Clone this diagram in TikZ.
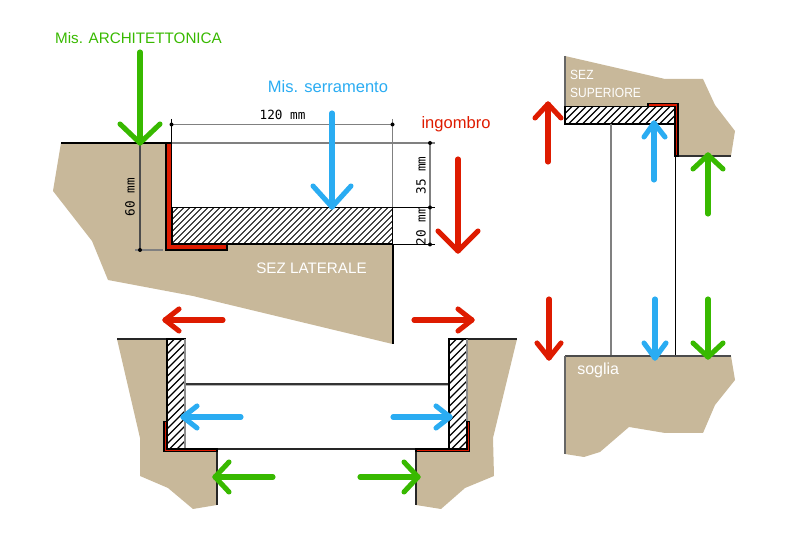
\documentclass[tikz,border=0pt]{standalone}
\usepackage{fontspec}
\setmainfont{Liberation Sans}
\setmonofont{DejaVu Sans Mono}
\definecolor{tan}{HTML}{C8B89A}
\definecolor{cgreen}{HTML}{38B900}
\definecolor{cblue}{HTML}{2AACF2}
\definecolor{cred}{HTML}{DE1B00}
\newcommand{\hatchbox}[6]{%
  \fill[white] (#1,#2) rectangle (#3,#4);
  \begin{scope}
    \clip (#1,#2) rectangle (#3,#4);
    \pgfmathsetmacro{\hh}{#4-#2}
    \pgfmathsetmacro{\hstart}{#1-\hh}
    \pgfmathsetmacro{\hnext}{\hstart+#5}
    \foreach \hx in {\hstart,\hnext,...,#3}{
      \draw[line width=#6] (\hx,#4) -- ++(\hh,-\hh);
    }
  \end{scope}
  \draw[line width=0.9pt] (#1,#2) rectangle (#3,#4);
}
\newcommand{\bigarrow}[6]{% colour, tail, tip, wing, wing, name
  \coordinate (#6t) at #2; \coordinate (#6h) at #3;
  \coordinate (#6a) at #4; \coordinate (#6b) at #5;
  \draw[bigarr,#1] (#6t) -- (#6h);
  \draw[bigarr,#1] (#6a) -- (#6h) -- (#6b);
}
\tikzset{
  x=0.75pt,y=-0.75pt,
  bigarr/.style={line width=3.8pt,line cap=round,line join=round},
  dimline/.style={draw=black!50,line width=1pt},
  dimdot/.style={circle,fill=black,inner sep=0pt,minimum size=3pt},
  dimtext/.style={font=\ttfamily\fontsize{9.5}{10}\selectfont,inner sep=0pt},
  title/.style={font=\fontsize{12.4}{14}\selectfont,inner sep=0pt},
  whitetext/.style={font=\fontsize{11.4}{13}\selectfont,text=white,inner sep=0pt,align=left},
  ground/.style={fill=tan,draw=none},
  edge/.style={line width=1.1pt},
  redbar/.style={fill=cred,draw=black,line width=1.1pt,line join=miter},
}
\begin{document}
\begin{tikzpicture}
\useasboundingbox (0,0) rectangle (804,541);
% ---- side section
\fill[ground] (61,143) -- (166,143) -- (166,250) -- (227,250) -- (227,245) -- (392.5,245) -- (392.5,344)
  -- (193,296) -- (108,280) -- (92,241) -- (53,191) -- cycle;
\draw[edge] (61,143) -- (166,143);
\draw[edge,line width=1.5pt] (392.5,244) -- (392.5,344);
\hatchbox{172}{207.5}{392.5}{244}{6}{0.6pt}
\draw[redbar] (166.1,143) -- (171.3,143) -- (171.3,244.5) -- (227,244.5) -- (227,250) -- (166.1,250) -- cycle;
% dimensions
\coordinate (dA) at (171.5,124.5); \coordinate (dB) at (392.5,124.5);
\coordinate (dC) at (430,143); \coordinate (dD) at (430,207.5); \coordinate (dE) at (430,244.5);
\coordinate (dF) at (140,143); \coordinate (dG) at (140,250);
\draw[dimline] (dA) -- (dB);
\draw[dimline,draw=black] (171.5,119) -- (171.5,143);
\draw[dimline] (392.5,119) -- (392.5,207);
\draw[dimline] (172,143) -- (435,143);
\draw[edge,line width=0.8pt] (392.5,207.5) -- (435,207.5);
\draw[edge,line width=0.8pt] (392.5,244.5) -- (435,244.5);
\draw[dimline] (dC) -- (dE);
\draw[dimline,draw=black!70] (dF) -- (dG);
\draw[dimline] (135,250) -- (163,250);
\foreach \d in {dA,dB,dC,dD,dE,dG}{\node[dimdot] at (\d) {};}
\node[dimtext] (t120) at (282.5,115) {120 mm};
\node[dimtext,rotate=90] (t60) at (130,197) {60 mm};
\node[dimtext,rotate=90] (t35) at (421,175.5) {35 mm};
\node[dimtext,rotate=90] (t20) at (421,226) {20 mm};
\node[whitetext] (tlat) at (311.5,268) {SEZ LATERALE};
% ---- top right section
\fill[ground] (565,56) -- (665,79) -- (703,79) -- (715,105) -- (735,131) -- (731,156) -- (677,156)
  -- (677,103) -- (648,103) -- (648,106) -- (565,106) -- cycle;
\draw[black!60,line width=1pt] (565,56) -- (565,106);
\draw[black!80,line width=0.9pt] (677,156) -- (731,156);
\hatchbox{565}{106.5}{675}{124}{7}{0.9pt}
\draw[redbar,line width=0.8pt] (648,103.5) -- (678,103.5) -- (678,156) -- (675,156) -- (675,106.5) -- (648,106.5) -- cycle;
\draw[black!50,line width=1.1pt] (611,124) -- (611,356);
\draw[black,line width=0.75pt] (675,156) -- (675,356);
\node[whitetext,font=\fontsize{10}{13.5}\selectfont,anchor=north west,xscale=0.9] (tsup) at (570,70) {SEZ\\SUPERIORE};
% ---- sill
\fill[ground] (565,356) -- (731,356) -- (735,380) -- (715,405) -- (703,433) -- (665,433) -- (629,427)
  -- (600,452) -- (584,457) -- (565,454) -- cycle;
\draw[black!70,line width=0.9pt] (565,356) -- (731,356);
\draw[black!60,line width=1.1pt] (565,356) -- (565,454);
\node[whitetext,font=\fontsize{12}{14}\selectfont,anchor=west] (tsog) at (577,370) {soglia};
% ---- plan
\fill[ground] (117,339) -- (167,339) -- (167,421) -- (163.5,421) -- (163.5,452) -- (217,452) -- (217,505)
  -- (193,509) -- (168,488) -- (140,476) -- (140,438) -- cycle;
\fill[ground] (517,339) -- (467,339) -- (467,421) -- (469.5,421) -- (469.5,452) -- (416,452) -- (416,505)
  -- (441,509) -- (465,488) -- (494,476) -- (493,438) -- cycle;
\draw[black!85,line width=0.8pt] (117,339) -- (167,339);
\draw[black!85,line width=0.8pt] (467,339) -- (517,339);
\draw[black!80,line width=0.9pt] (185,384) -- (449,384);
\draw[black!30,line width=0.6pt] (185,385.2) -- (449,385.2);
\draw[black!85,line width=0.8pt] (217,449) -- (416,449);
\draw[black!85,line width=0.8pt] (217,449) -- (217,505);
\draw[black!85,line width=0.8pt] (416,449) -- (416,505);
\hatchbox{167}{339}{185}{449}{7.5}{0.9pt}
\hatchbox{449}{339}{467}{449}{7.5}{0.9pt}
\draw[black!45,line width=1.1pt] (185,339) -- (185,449);
\draw[black!45,line width=1.1pt] (467,339) -- (467,449);
\draw[redbar,line width=0.8pt] (164,421.5) -- (167,421.5) -- (167,449) -- (217,449) -- (217,451.5) -- (164,451.5) -- cycle;
\draw[redbar,line width=0.8pt] (469.5,421.5) -- (467,421.5) -- (467,449) -- (416,449) -- (416,451.5) -- (469.5,451.5) -- cycle;
% ---- titles
\node[title,font=\fontsize{11.4}{14}\selectfont,text=cgreen] (tarch) at (138.5,38) {Mis. ARCHITETTONICA};
\node[title,text=cblue] (tser) at (328,87) {Mis. serramento};
\node[title,text=cred] (ting) at (456,124) {ingombro};
% ---- arrows
\bigarrow{cgreen}{(140,52)}{(140,143)}{(120,124)}{(160,124)}{a}
\bigarrow{cblue}{(332,113)}{(332,207)}{(313,186)}{(351,186)}{b}
\bigarrow{cred}{(458,159)}{(458,251)}{(438,231)}{(478,231)}{c}
\bigarrow{cred}{(548,162)}{(548,104)}{(535,118)}{(561,118)}{d}
\bigarrow{cblue}{(654,180)}{(654,123)}{(644,137)}{(665,137)}{e}
\bigarrow{cgreen}{(708,214)}{(708,155)}{(693,169)}{(723,169)}{f}
\bigarrow{cred}{(549,299)}{(549,358)}{(537,343)}{(561,343)}{g}
\bigarrow{cblue}{(655,299)}{(655,358)}{(644,343)}{(666,343)}{h}
\bigarrow{cgreen}{(708,299)}{(708,357)}{(693,343)}{(723,343)}{i}
\bigarrow{cred}{(223,320)}{(165,320)}{(179,309)}{(179,331)}{j}
\bigarrow{cred}{(414,320)}{(472,320)}{(458,309)}{(458,331)}{k}
\bigarrow{cblue}{(241,417)}{(183,417)}{(197,406)}{(197,428)}{l}
\bigarrow{cblue}{(393,417)}{(450,417)}{(436,406)}{(436,428)}{m}
\bigarrow{cgreen}{(273,477)}{(215,477)}{(229,462)}{(229,492)}{n}
\bigarrow{cgreen}{(360,477)}{(418,477)}{(404,462)}{(404,492)}{o}
\end{tikzpicture}
\end{document}
